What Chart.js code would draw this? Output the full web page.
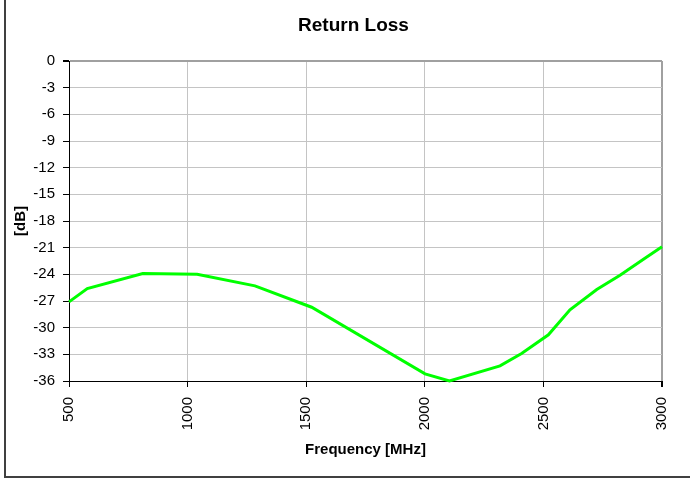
<!DOCTYPE html>
<html>
<head>
<meta charset="utf-8">
<script src="https://cdn.jsdelivr.net/npm/chart.js@4.4.1/dist/chart.umd.min.js"></script>
<style>
  html, body { margin: 0; padding: 0; background: #fff; }
  #wrap { width: 690px; height: 479px; position: relative; }
</style>
</head>
<body>
<div id="wrap"><canvas id="c" width="690" height="479"></canvas></div>
<script>
const chartTitle = "Return Loss";
const xTitle = "Frequency [MHz]";
const yTitle = "[dB]";
const frequencyMHz = [500, 577, 811, 1040, 1284, 1523, 2001, 2104, 2317, 2408, 2521, 2612, 2725, 2823, 2928, 3000];
const returnLossDb = [-27.1, -25.6, -23.9, -24.0, -25.3, -27.7, -35.2, -36.0, -34.3, -32.9, -30.8, -28.0, -25.7, -24.1, -22.2, -20.9];
const xTickValues = [500, 1000, 1500, 2000, 2500, 3000];
const yTickValues = [0, -3, -6, -9, -12, -15, -18, -21, -24, -27, -30, -33, -36];

const points = frequencyMHz.map((f, i) => ({ x: f, y: returnLossDb[i] }));

const FONT = "'Liberation Sans', Arial, sans-serif";

const framePlugin = {
  id: 'frame',
  beforeDraw(chart) {
    const ctx = chart.ctx;
    ctx.save();
    ctx.strokeStyle = '#404040';
    ctx.lineWidth = 2;
    ctx.beginPath();
    ctx.moveTo(5, -2);
    ctx.lineTo(5, 477);
    ctx.lineTo(700, 477);
    ctx.stroke();
    ctx.restore();
  },
  afterDraw(chart) {
    const ctx = chart.ctx;
    ctx.save();
    ctx.fillStyle = '#000';
    ctx.font = "bold 19px " + FONT;
    ctx.textAlign = 'center';
    ctx.textBaseline = 'middle';
    ctx.fillText(chartTitle, 353.5, 26);
    ctx.restore();
  }
};

new Chart(document.getElementById('c'), {
  type: 'line',
  data: {
    datasets: [{
      data: points,
      borderColor: '#00ff00',
      borderWidth: 3,
      pointRadius: 0,
      tension: 0,
      fill: false,
      clip: false
    }]
  },
  options: {
    responsive: false,
    animation: false,
    devicePixelRatio: 1,
    layout: { padding: { left: 0, right: 28, top: 61, bottom: 0 } },
    plugins: {
      legend: { display: false },
      title: { display: false },
      tooltip: { enabled: false }
    },
    scales: {
      x: {
        type: 'linear',
        min: 500,
        max: 3000,
        afterBuildTicks(scale) { scale.ticks = xTickValues.map(v => ({ value: v })); },
        afterFit(scale) { scale.height = 98; },
        ticks: {
          autoSkip: false,
          minRotation: 90,
          maxRotation: 90,
          padding: 10,
          color: '#000',
          font: { family: FONT, size: 15 },
          callback: v => String(v)
        },
        grid: {
          color: ctx => (ctx.tick && ctx.tick.value === 3000) ? '#a0a0a0' : '#c4c4c4',
          lineWidth: ctx => (ctx.tick && ctx.tick.value === 3000) ? 2 : 1,
          tickColor: '#000',
          tickLength: 6,
          drawTicks: true
        },
        border: { display: true, color: '#000', width: 1 },
        title: {
          display: true,
          text: xTitle,
          color: '#000',
          font: { family: FONT, size: 15, weight: 'bold' },
          padding: { top: 0, bottom: 20.5 }
        }
      },
      y: {
        type: 'linear',
        min: -36,
        max: 0,
        afterBuildTicks(scale) { scale.ticks = yTickValues.map(v => ({ value: v })); },
        afterFit(scale) { scale.width = 69; },
        ticks: {
          padding: 8,
          color: '#000',
          font: { family: FONT, size: 15 },
          callback: v => String(v)
        },
        grid: {
          color: ctx => (ctx.tick && ctx.tick.value === 0) ? '#a0a0a0' : '#c4c4c4',
          lineWidth: ctx => (ctx.tick && ctx.tick.value === 0) ? 2 : 1,
          tickColor: '#000',
          tickLength: 6,
          drawTicks: true
        },
        border: { display: true, color: '#000', width: 1 },
        title: {
          display: true,
          text: yTitle,
          color: '#000',
          font: { family: FONT, size: 15, weight: 'bold' },
          padding: { top: 12, bottom: 0 }
        }
      }
    }
  },
  plugins: [framePlugin]
});
</script>
</body>
</html>
